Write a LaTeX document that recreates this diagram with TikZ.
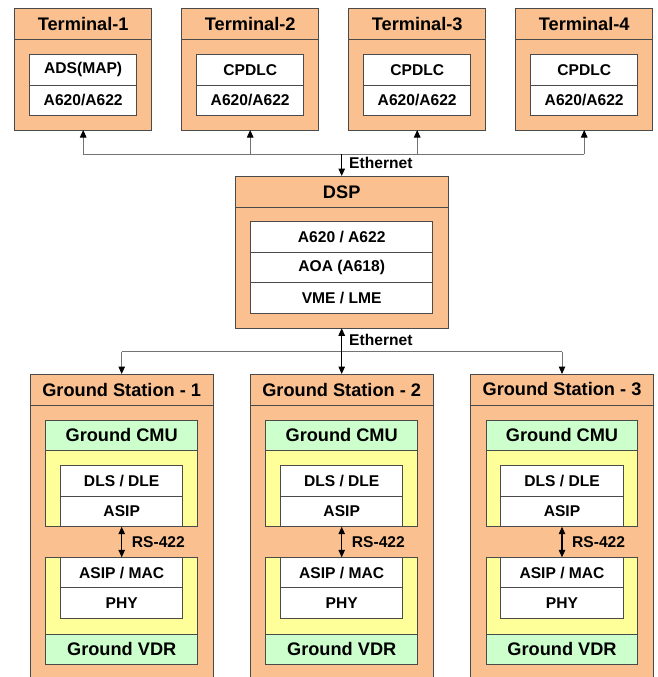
\documentclass[tikz,border=0pt]{standalone}
\usepackage{fontspec}
\setmainfont{Liberation Sans}
\usetikzlibrary{arrows.meta}
\definecolor{peach}{HTML}{FAC090}
\definecolor{mint}{HTML}{CCFFCC}
\definecolor{lemon}{HTML}{FFFF99}
\definecolor{bord}{HTML}{4A4A4A}
\tikzset{
  boxbase/.style={draw=bord, line width=1pt, rectangle, inner sep=0pt, outer sep=0pt},
  hdr/.style={boxbase, fill=peach, font=\bfseries\fontsize{18.2}{20}\selectfont},
  bodybox/.style={boxbase, fill=peach},
  greenbox/.style={boxbase, fill=mint, font=\bfseries\fontsize{18.2}{20}\selectfont},
  yellowbox/.style={boxbase, fill=lemon},
  cell/.style={boxbase, fill=white, font=\bfseries\fontsize{15.6}{17}\selectfont},
  tipa/.tip={Triangle[length=7.5pt,width=6.5pt,color=black]},
  conn/.style={draw=black!55, line width=1pt, -tipa},
  busline/.style={draw=black!55, line width=1pt},
  strong/.style={draw=black, line width=1.1pt},
  lbl/.style={inner sep=0pt, anchor=west, font=\bfseries\fontsize{15.6}{17}\selectfont}
}
\begin{document}
\begin{tikzpicture}[x=1pt,y=-1pt]
\useasboundingbox (0,0) rectangle (657,677);
\clip (0,0) rectangle (657,677);
\fill[white] (0,0) rectangle (657,677);

% Terminals
\foreach \i/\toptxt in {1/ADS(MAP),2/CPDLC,3/CPDLC,4/CPDLC} {
  \pgfmathsetmacro\cx{83.2+167*(\i-1)}
  \node[hdr, minimum width=137pt, minimum height=30.3pt] (t\i-h) at (\cx,24.15) {Terminal-\i};
  \node[bodybox, minimum width=137pt, minimum height=90.7pt] (t\i-b) at (\cx,84.65) {};
  \node[cell, minimum width=106.7pt, minimum height=30.7pt] (t\i-c1) at (\cx,69.65) {\toptxt};
  \node[cell, minimum width=106.7pt, minimum height=30.7pt] (t\i-c2) at (\cx,100.35) {A620/A622};
  \coordinate (bus\i) at (\cx,154);
  \draw[conn] (bus\i) -- (t\i-b.south);
}
\draw[busline] (bus1) -- (bus4);

% DSP
\node[hdr, minimum width=213.3pt, minimum height=31.7pt] (dsp-h) at (341.7,191.85) {DSP};
\node[bodybox, minimum width=213.3pt, minimum height=120.6pt] (dsp-b) at (341.7,268) {};
\node[cell, minimum width=182pt, minimum height=30.6pt] (dsp-c1) at (341.7,237) {A620 / A622};
\node[cell, minimum width=182pt, minimum height=30.6pt] (dsp-c2) at (341.7,267.6) {AOA (A618)};
\node[cell, minimum width=182pt, minimum height=30.6pt] (dsp-c3) at (341.7,298.2) {VME / LME};

\coordinate (ethtop) at (341.7,154);
\draw[strong, -tipa] (ethtop) -- (dsp-h.north);
\node[lbl] (eth1) at (349,163) {Ethernet};

% Ground stations
\foreach \i/\cx in {1/121.7,2/341.7,3/562} {
  \node[hdr, minimum width=183.3pt, minimum height=31pt] (gs\i-h) at (\cx,389.5) {Ground Station - \i};
  \node[bodybox, minimum width=183.3pt, minimum height=295pt] (gs\i-b) at (\cx,552.5) {};
  \node[greenbox, minimum width=151.6pt, minimum height=30.7pt] (gs\i-cmu) at (\cx,435.35) {Ground CMU};
  \node[yellowbox, minimum width=151.6pt, minimum height=76pt] (gs\i-y1) at (\cx,488.7) {};
  \node[cell, minimum width=122.3pt, minimum height=30.7pt] (gs\i-c1) at (\cx,480.65) {DLS / DLE};
  \node[cell, minimum width=122.3pt, minimum height=30.7pt] (gs\i-c2) at (\cx,511.35) {ASIP};
  \node[yellowbox, minimum width=151.6pt, minimum height=76.7pt] (gs\i-y2) at (\cx,595.65) {};
  \node[cell, minimum width=122.3pt, minimum height=30.5pt] (gs\i-c3) at (\cx,572.55) {ASIP / MAC};
  \node[cell, minimum width=122.3pt, minimum height=30.5pt] (gs\i-c4) at (\cx,603.05) {PHY};
  \node[greenbox, minimum width=151.6pt, minimum height=30pt] (gs\i-vdr) at (\cx,649) {Ground VDR};
  \draw[strong, tipa-tipa] (gs\i-c2.south) -- (gs\i-c3.north);
  \node[lbl] (rs\i) at (\cx+10,541.7) {RS-422};
}

% lower Ethernet
\coordinate (lb1) at (121.7,351.7);
\coordinate (lb3) at (562,351.7);
\draw[busline] (lb1) -- (lb3);
\draw[conn] (lb1) -- (gs1-h.north);
\draw[conn] (lb3) -- (gs3-h.north);
\draw[strong, tipa-tipa] (dsp-b.south) -- (gs2-h.north);
\node[lbl] (eth2) at (349,339.5) {Ethernet};
\end{tikzpicture}
\end{document}
